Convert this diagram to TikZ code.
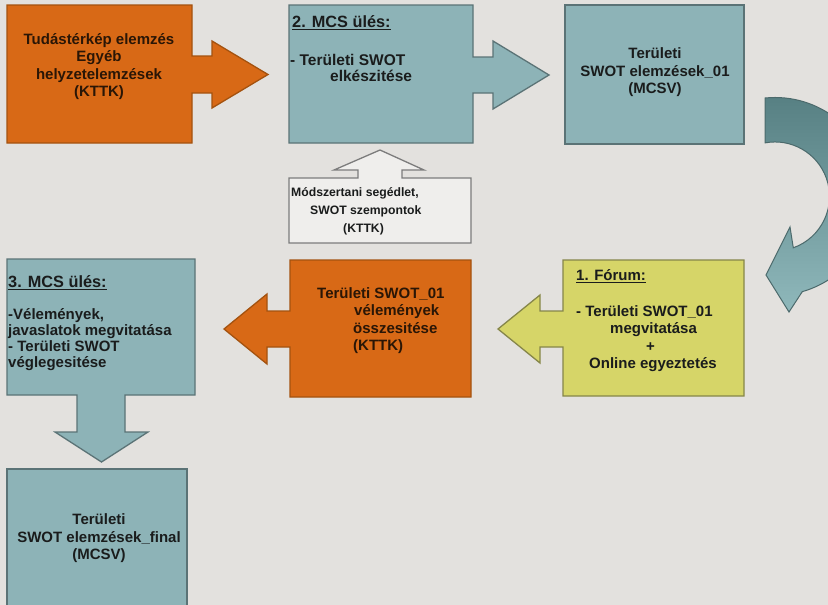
\documentclass[tikz,border=0pt]{standalone}
\usepackage{fontspec}
\setmainfont{Liberation Sans}
\definecolor{bgcol}{HTML}{E3E1DE}
\definecolor{orangefill}{HTML}{D86916}
\definecolor{orangeline}{HTML}{A4520F}
\definecolor{tealfill}{HTML}{8DB3B7}
\definecolor{tealline}{HTML}{5B7376}
\definecolor{yellowfill}{HTML}{D6D568}
\definecolor{yellowline}{HTML}{86864A}
\definecolor{grayfill}{HTML}{EFEEEC}
\definecolor{grayline}{HTML}{7C7C7C}
\definecolor{arrowdark}{HTML}{567F82}
\definecolor{arrowmid}{HTML}{6F9598}
\definecolor{arrowlight}{HTML}{8FB8BB}
\definecolor{arrowline}{HTML}{4C6A6C}
\definecolor{textdark}{HTML}{1A1C1C}
\definecolor{textbrown}{HTML}{2A1606}
\tikzset{
  obox/.style={fill=orangefill, draw=orangeline, line width=1.3pt},
  tbox/.style={fill=tealfill, draw=tealline, line width=1.3pt},
  ybox/.style={fill=yellowfill, draw=yellowline, line width=1.3pt},
  gbox/.style={fill=grayfill, draw=grayline, line width=1.3pt},
  txt/.style={font=\bfseries\fontsize{15}{17.5}\selectfont, inner sep=0pt, text=textdark},
  otxt/.style={txt, text=textbrown},
  headtxt/.style={txt, font=\bfseries\fontsize{16.3}{18}\selectfont},
  smalltxt/.style={font=\bfseries\fontsize{12.2}{18}\selectfont, inner sep=0pt, text=textdark},
}
\begin{document}
\begin{tikzpicture}[x=1pt,y=-1pt]
\useasboundingbox (0,0) rectangle (828,605);
\clip (0,0) rectangle (828,605);
\fill[bgcol] (0,0) rectangle (828,605);

% Box 1 (orange, arrow right)
\draw[obox] (7,5) -- (192,5) -- (192,56) -- (212,56) -- (212,41) -- (268,74.5)
  -- (212,108) -- (212,93) -- (192,93) -- (192,143) -- (7,143) -- cycle;
\node[otxt, align=center] (t1) at (99,66.5)
  {Tudástérkép elemzés\\Egyéb\\helyzetelemzések\\(KTTK)};

% Box 2 (teal, arrow right)
\draw[tbox] (289,5) -- (473,5) -- (473,57) -- (493,57) -- (493,41) -- (549,75)
  -- (493,109) -- (493,93) -- (473,93) -- (473,143) -- (289,143) -- cycle;
\node[headtxt, anchor=west] (h2) at (292,23) {\underline{2. MCS ülés:}};
\node[txt, align=left, anchor=west, font=\bfseries\fontsize{15.5}{16.5}\selectfont] (t2) at (290,68)
  {- Területi SWOT\\\hspace*{40pt}elkészitése};

% Box 3 (teal)
\draw[tbox] (565,5) rectangle (744,144);
\node[txt, align=center] (t3) at (655,72.5)
  {Területi\\SWOT elemzések\_01\\(MCSV)};

% Módszertani box with up arrow
\draw[gbox] (289,178) -- (358,178) -- (358,170) -- (334,170) -- (380,150)
  -- (424,170) -- (402,170) -- (402,178) -- (471,178) -- (471,243) -- (289,243) -- cycle;
\node[smalltxt, align=left, anchor=west] (tm) at (291,211.5)
  {Módszertani segédlet,\\\hspace*{19pt}SWOT szempontok\\\hspace*{52pt}(KTTK)};

% Curved arrow
\path[draw=arrowline, line width=1pt, top color=arrowdark, middle color=arrowmid, bottom color=arrowlight]
  (765,98) arc[start angle=-95.8, end angle=74, radius=99]
  -- (789,312) -- (766,275) -- (790,227) -- (793.3,247.8)
  arc[start angle=70.4, end angle=-100.6, radius=54.5] -- cycle;

% Yellow box (arrow left)
\draw[ybox] (563,260) -- (744,260) -- (744,396) -- (563,396) -- (563,347) -- (540,347)
  -- (540,363) -- (498,329) -- (540,295) -- (540,311) -- (563,311) -- cycle;
\node[txt, anchor=west] (hy) at (576,276) {\underline{1. Fórum:}};
\node[txt, align=left, anchor=west] (ty) at (576,338.5)
  {- Területi SWOT\_01\\\hspace*{34pt}megvitatása\\\hspace*{70pt}+\\\hspace*{13pt}Online egyeztetés};

% Orange box 2 (arrow left)
\draw[obox] (290,260) -- (471,260) -- (471,397) -- (290,397) -- (290,347) -- (267,347)
  -- (267,364) -- (224,329) -- (267,294) -- (267,311) -- (290,311) -- cycle;
\node[otxt, align=left, anchor=west] (to) at (317,320.5)
  {Területi SWOT\_01\\\hspace*{37pt}vélemények\\\hspace*{36pt}összesitése\\\hspace*{36pt}(KTTK)};

% 3. MCS box (arrow down)
\draw[tbox] (7,259) -- (195,259) -- (195,395) -- (125,395) -- (125,432) -- (148,432)
  -- (101.5,462) -- (55,432) -- (77,432) -- (77,395) -- (7,395) -- cycle;
\node[headtxt, anchor=west] (h3) at (8,283) {\underline{3. MCS ülés:}};
\node[txt, align=left, anchor=west, font=\bfseries\fontsize{15}{15.8}\selectfont] (t3b) at (8,339.5)
  {-Vélemények,\\javaslatok megvitatása\\- Területi SWOT\\véglegesitése};

% Final box
\draw[tbox] (7,469) rectangle (187,612);
\node[txt, align=center] (tf) at (99,538.5)
  {Területi\\SWOT elemzések\_final\\(MCSV)};
\end{tikzpicture}
\end{document}
